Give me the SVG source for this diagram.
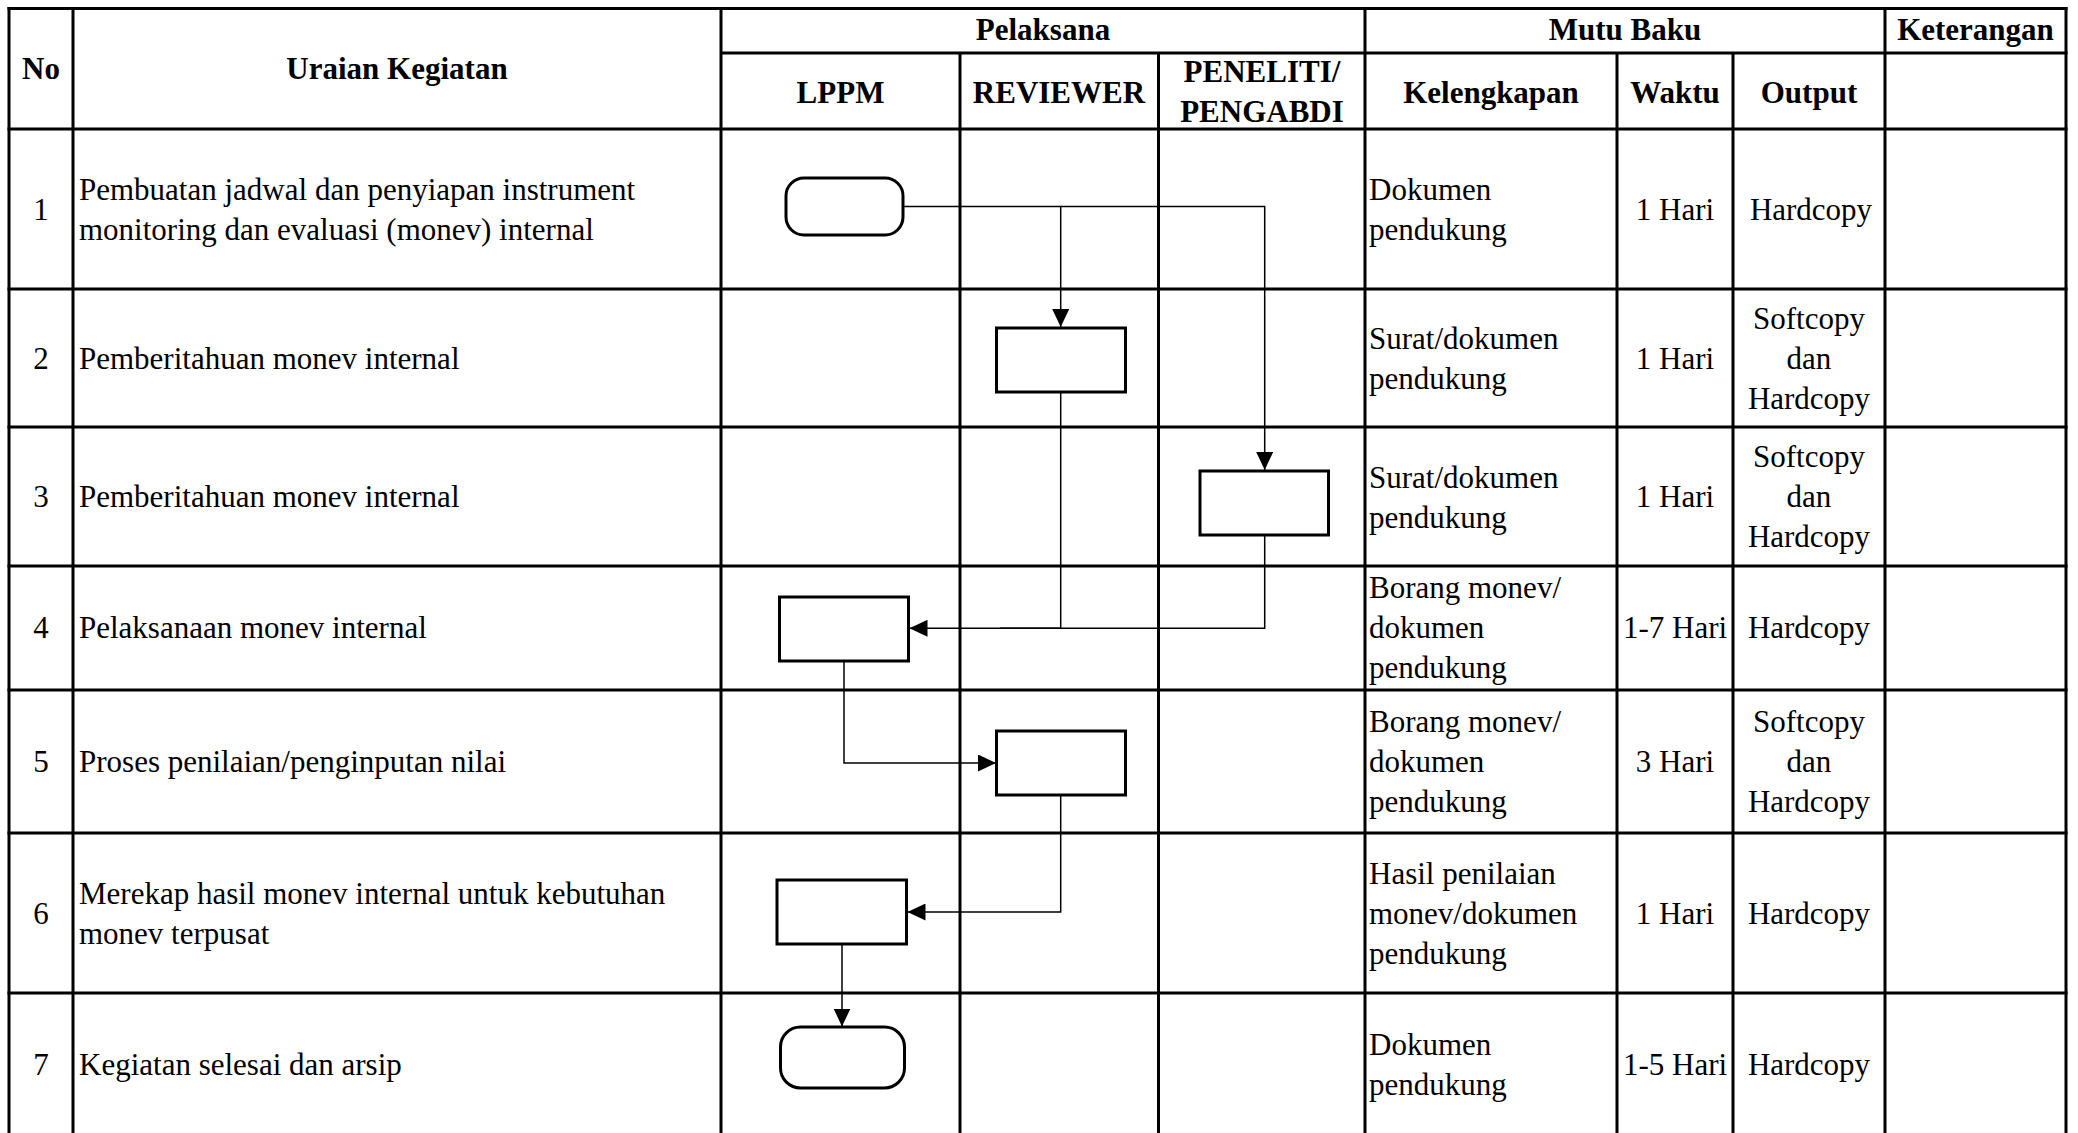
<svg xmlns="http://www.w3.org/2000/svg" width="2078" height="1133" viewBox="0 0 2078 1133">
<style>
.grid line{stroke:#000;stroke-width:3}
.h{font-family:"Liberation Serif","Times New Roman",serif;font-weight:bold;font-size:31px;fill:#000}
.t{font-family:"Liberation Serif","Times New Roman",serif;font-size:31px;fill:#000}
.c{text-anchor:middle}
.shape{fill:#fff;stroke:#000;stroke-width:3}
.conn{fill:none;stroke:#000;stroke-width:1.5}
</style>
<defs>
<marker id="arr" viewBox="0 0 18 17" refX="18" refY="8.5" markerWidth="18" markerHeight="17" markerUnits="userSpaceOnUse" orient="auto">
<path d="M0,0 L18,8.5 L0,17 z" fill="#000"/>
</marker>
</defs>
<rect width="2078" height="1133" fill="#fff"/>
<g class="grid">
<line x1="7.5" y1="8.5" x2="2067.5" y2="8.5"/>
<line x1="721" y1="53" x2="2067.5" y2="53"/>
<line x1="7.5" y1="129" x2="2067.5" y2="129"/>
<line x1="7.5" y1="289" x2="2067.5" y2="289"/>
<line x1="7.5" y1="427" x2="2067.5" y2="427"/>
<line x1="7.5" y1="566" x2="2067.5" y2="566"/>
<line x1="7.5" y1="690" x2="2067.5" y2="690"/>
<line x1="7.5" y1="833" x2="2067.5" y2="833"/>
<line x1="7.5" y1="993" x2="2067.5" y2="993"/>
<line x1="9" y1="7" x2="9" y2="1133"/>
<line x1="73" y1="7" x2="73" y2="1133"/>
<line x1="721" y1="7" x2="721" y2="1133"/>
<line x1="960" y1="53" x2="960" y2="1133"/>
<line x1="1158.5" y1="53" x2="1158.5" y2="1133"/>
<line x1="1365" y1="7" x2="1365" y2="1133"/>
<line x1="1617" y1="53" x2="1617" y2="1133"/>
<line x1="1733" y1="53" x2="1733" y2="1133"/>
<line x1="1885" y1="7" x2="1885" y2="1133"/>
<line x1="2066" y1="7" x2="2066" y2="1133"/>
</g>
<g id="header">
<text class="h c" x="41" y="79">No</text>
<text class="h c" x="397" y="79">Uraian Kegiatan</text>
<text class="h c" x="1043" y="40">Pelaksana</text>
<text class="h c" x="840.5" y="103">LPPM</text>
<text class="h c" x="1059" y="103">REVIEWER</text>
<text class="h c" x="1262" y="82">PENELITI/</text>
<text class="h c" x="1262" y="122">PENGABDI</text>
<text class="h c" x="1625" y="40">Mutu Baku</text>
<text class="h c" x="1975.5" y="40">Keterangan</text>
<text class="h c" x="1491" y="103">Kelengkapan</text>
<text class="h c" x="1675" y="103">Waktu</text>
<text class="h c" x="1809" y="103">Output</text>
</g>
<g id="row1">
<text class="t c" x="41" y="220">1</text>
<text class="t" x="79" y="200">Pembuatan jadwal dan penyiapan instrument</text>
<text class="t" x="79" y="240">monitoring dan evaluasi (monev) internal</text>
<text class="t" x="1369" y="200">Dokumen</text>
<text class="t" x="1369" y="240">pendukung</text>
<text class="t c" x="1675" y="220">1 Hari</text>
<text class="t c" x="1811" y="220">Hardcopy</text>
</g>
<g id="row2">
<text class="t c" x="41" y="369">2</text>
<text class="t" x="79" y="369">Pemberitahuan monev internal</text>
<text class="t" x="1369" y="349">Surat/dokumen</text>
<text class="t" x="1369" y="389">pendukung</text>
<text class="t c" x="1675" y="369">1 Hari</text>
<text class="t c" x="1809" y="329">Softcopy</text>
<text class="t c" x="1809" y="369">dan</text>
<text class="t c" x="1809" y="409">Hardcopy</text>
</g>
<g id="row3">
<text class="t c" x="41" y="507">3</text>
<text class="t" x="79" y="507">Pemberitahuan monev internal</text>
<text class="t" x="1369" y="488">Surat/dokumen</text>
<text class="t" x="1369" y="528">pendukung</text>
<text class="t c" x="1675" y="507">1 Hari</text>
<text class="t c" x="1809" y="467">Softcopy</text>
<text class="t c" x="1809" y="507">dan</text>
<text class="t c" x="1809" y="547">Hardcopy</text>
</g>
<g id="row4">
<text class="t c" x="41" y="638">4</text>
<text class="t" x="79" y="638">Pelaksanaan monev internal</text>
<text class="t" x="1369" y="598">Borang monev/</text>
<text class="t" x="1369" y="638">dokumen</text>
<text class="t" x="1369" y="678">pendukung</text>
<text class="t c" x="1675" y="638">1-7 Hari</text>
<text class="t c" x="1809" y="638">Hardcopy</text>
</g>
<g id="row5">
<text class="t c" x="41" y="772">5</text>
<text class="t" x="79" y="772">Proses penilaian/penginputan nilai</text>
<text class="t" x="1369" y="732">Borang monev/</text>
<text class="t" x="1369" y="772">dokumen</text>
<text class="t" x="1369" y="812">pendukung</text>
<text class="t c" x="1675" y="772">3 Hari</text>
<text class="t c" x="1809" y="732">Softcopy</text>
<text class="t c" x="1809" y="772">dan</text>
<text class="t c" x="1809" y="812">Hardcopy</text>
</g>
<g id="row6">
<text class="t c" x="41" y="924">6</text>
<text class="t" x="79" y="904">Merekap hasil monev internal untuk kebutuhan</text>
<text class="t" x="79" y="944">monev terpusat</text>
<text class="t" x="1369" y="884">Hasil penilaian</text>
<text class="t" x="1369" y="924">monev/dokumen</text>
<text class="t" x="1369" y="964">pendukung</text>
<text class="t c" x="1675" y="924">1 Hari</text>
<text class="t c" x="1809" y="924">Hardcopy</text>
</g>
<g id="row7">
<text class="t c" x="41" y="1075">7</text>
<text class="t" x="79" y="1075">Kegiatan selesai dan arsip</text>
<text class="t" x="1369" y="1055">Dokumen</text>
<text class="t" x="1369" y="1095">pendukung</text>
<text class="t c" x="1675" y="1075">1-5 Hari</text>
<text class="t c" x="1809" y="1075">Hardcopy</text>
</g>
<g id="connectors">
<path class="conn" d="M903,206.5 H1060.7 V327" marker-end="url(#arr)"/>
<path class="conn" d="M1060.7,206.5 H1264.7 V470" marker-end="url(#arr)"/>
<path class="conn" d="M1060.7,392 V628.3 H1000"/>
<path class="conn" d="M1264.7,535 V628.3 H909.5" marker-end="url(#arr)"/>
<path class="conn" d="M844,661 V763 H996" marker-end="url(#arr)"/>
<path class="conn" d="M1060.7,795 V912 H907.5" marker-end="url(#arr)"/>
<path class="conn" d="M842,944 V1026.5" marker-end="url(#arr)"/>
</g>
<g id="n-start"><rect class="shape" x="786" y="178" width="117" height="57" rx="18" ry="18"/></g>
<g id="n-2"><rect class="shape" x="996.5" y="328" width="129" height="64"/></g>
<g id="n-3"><rect class="shape" x="1200" y="471" width="128.5" height="64"/></g>
<g id="n-4"><rect class="shape" x="779.5" y="597" width="129" height="64"/></g>
<g id="n-5"><rect class="shape" x="996.5" y="731" width="129" height="64"/></g>
<g id="n-6"><rect class="shape" x="777" y="880" width="129.5" height="64"/></g>
<g id="n-end"><rect class="shape" x="780.5" y="1027" width="124" height="61" rx="20" ry="20"/></g>
</svg>
